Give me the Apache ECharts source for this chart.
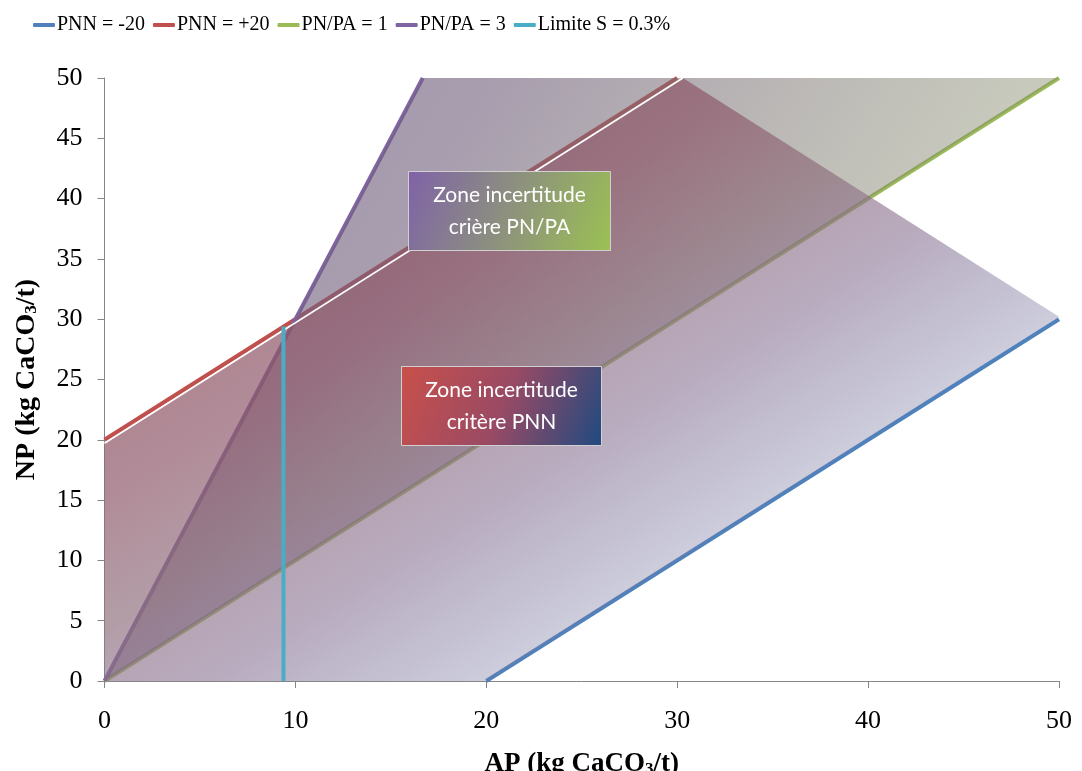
<!DOCTYPE html>
<html>
<head>
<meta charset="utf-8">
<script src="https://cdn.jsdelivr.net/npm/echarts@6/dist/echarts.min.js"></script>
<style>
html,body{margin:0;padding:0;background:#fff;}
#chart{width:1082px;height:771px;}
</style>
</head>
<body>
<div id="chart"></div>
<script>
// ---- data ----
const legendNames = ['PNN = -20', 'PNN = +20', 'PN/PA = 1', 'PN/PA = 3', 'Limite S = 0.3%'];
const pnnMinus20 = [[20, 0], [50, 30]];
const pnnPlus20 = [[0, 20], [30, 50]];
const ratio1 = [[0, 0], [50, 50]];
const ratio3 = [[0, 0], [16.67, 50]];
const limitS = [[9.375, 0], [9.375, 29.4]];
const pnnZone = [[0, 0], [0, 19.7], [30.3, 50], [50, 30.2], [20, 0]];
const ratioZone = [[0, 0], [16.67, 50], [50, 50]];
const zoneLabels = ['Zone incertitude\ncrière PN/PA', 'Zone incertitude\ncritère PNN'];

const colors = ['#4F81BD', '#C0504D', '#9BBB59', '#8064A2', '#4BACC6'];
const serif = 'Liberation Serif';

// gradient stops (style only)
const pnnStops = [
  { offset: 0, color: 'rgba(141,85,102,0.70)' },
  { offset: 0.3, color: 'rgba(141,85,102,0.70)' },
  { offset: 0.35, color: 'rgba(142,88,106,0.69)' },
  { offset: 0.46, color: 'rgba(142,111,125,0.68)' },
  { offset: 0.5, color: 'rgba(140,112,137,0.63)' },
  { offset: 0.56, color: 'rgba(128,104,140,0.55)' },
  { offset: 0.67, color: 'rgba(117,112,155,0.40)' },
  { offset: 0.7, color: 'rgba(120,120,160,0.37)' },
  { offset: 1, color: 'rgba(120,120,160,0.30)' }
];
const ratioStops = [
  { offset: 0, color: 'rgba(108,90,132,0.65)' },
  { offset: 0.3, color: 'rgba(115,98,125,0.62)' },
  { offset: 0.68, color: 'rgba(131,133,107,0.45)' },
  { offset: 1, color: 'rgba(140,165,85,0.38)' }
];

function lineSeries(name, data, color, z) {
  return {
    name, type: 'line', data, symbol: 'none', z,
    lineStyle: { width: 4, color }, itemStyle: { color },
    silent: true, animation: false
  };
}

// gradient across the shape's bounding box, iso-lines parallel to its rising diagonal
function isoGradient(api, pts, stops) {
  const xs = pts.map(p => p[0]), ys = pts.map(p => p[1]);
  const x0 = Math.min(...xs), x1 = Math.max(...xs), y0 = Math.min(...ys), y1 = Math.max(...ys);
  const tl = api.coord([x0, y1]), br = api.coord([x1, y0]);
  const bl = api.coord([x0, y0]), tr = api.coord([x1, y1]);
  const dx = tr[0] - bl[0], dy = tr[1] - bl[1];
  let nx = -dy, ny = dx;
  const len = Math.hypot(nx, ny); nx /= len; ny /= len;
  const proj = (br[0] - tl[0]) * nx + (br[1] - tl[1]) * ny;
  return { type: 'linear', global: true, x: tl[0], y: tl[1], x2: tl[0] + nx * proj, y2: tl[1] + ny * proj, colorStops: stops };
}

function zoneSeries(name, pts, stops, mode, topEdge, z) {
  return {
    name, type: 'custom', coordinateSystem: 'cartesian2d', z, silent: true, animation: false,
    data: pts, encode: { x: 0, y: 1 },
    renderItem(params, api) {
      if (params.dataIndex !== 0) return null;
      const points = pts.map(p => api.coord(p));
      const fill = mode === 'iso' ? isoGradient(api, pts, stops)
        : { type: 'linear', x: 0, y: 0, x2: 1, y2: 1, colorStops: stops };
      const children = [{ type: 'polygon', shape: { points }, style: { fill, stroke: null } }];
      if (topEdge) {
        children.push({ type: 'polyline', shape: { points: [points[1], points[2]] },
          style: { stroke: '#ffffff', lineWidth: 1.5, fill: null } });
      }
      return { type: 'group', children };
    }
  };
}

const chart = echarts.init(document.getElementById('chart'), null, { renderer: 'canvas' });

const option = {
  backgroundColor: '#ffffff',
  animation: false,
  legend: {
    data: legendNames, left: 28, top: 10,
    icon: 'roundRect', itemWidth: 22, itemHeight: 4, itemGap: 8,
    textStyle: { fontFamily: serif, fontSize: 20, color: '#000', padding: [0, 0, 0, -3] }
  },
  grid: { left: 104.5, right: 23, top: 78, bottom: 90, containLabel: false, outerBoundsMode: 'none' },
  xAxis: {
    type: 'value', min: 0, max: 50, interval: 10,
    name: '{b|AP (kg CaCO}{s|3}{b|/t)}', nameLocation: 'middle', nameGap: 70,
    nameTextStyle: {
      rich: {
        b: { fontFamily: serif, fontWeight: 'bold', fontSize: 27, color: '#000' },
        s: { fontFamily: serif, fontWeight: 'bold', fontSize: 17, color: '#000', verticalAlign: 'bottom', padding: [10, 0, 0, 0] }
      }
    },
    axisLine: { lineStyle: { color: '#868686', width: 1 } },
    axisTick: { show: true, length: 7, lineStyle: { color: '#868686' } },
    axisLabel: { fontFamily: serif, fontSize: 26, color: '#000', margin: 27 },
    splitLine: { show: false }
  },
  yAxis: {
    type: 'value', min: 0, max: 50, interval: 5,
    name: '{b|NP (kg CaCO}{s|3}{b|/t)}', nameLocation: 'middle', nameGap: 64, nameRotate: 90,
    nameTextStyle: {
      rich: {
        b: { fontFamily: serif, fontWeight: 'bold', fontSize: 28, color: '#000' },
        s: { fontFamily: serif, fontWeight: 'bold', fontSize: 17, color: '#000', verticalAlign: 'bottom', padding: [10, 0, 0, 0] }
      }
    },
    axisLine: { show: true, lineStyle: { color: '#868686', width: 1 } },
    axisTick: { show: true, length: 7, lineStyle: { color: '#868686' } },
    axisLabel: { fontFamily: serif, fontSize: 26, color: '#000', margin: 22 },
    splitLine: { show: false }
  },
  series: [
    lineSeries(legendNames[0], pnnMinus20, colors[0], 2),
    lineSeries(legendNames[1], pnnPlus20, colors[1], 2),
    lineSeries(legendNames[2], ratio1, colors[2], 2),
    lineSeries(legendNames[3], ratio3, colors[3], 2),
    zoneSeries('zone PN/PA', ratioZone, ratioStops, 'bbox', false, 3),
    zoneSeries('zone PNN', pnnZone, pnnStops, 'iso', true, 4),
    lineSeries(legendNames[4], limitS, colors[4], 5)
  ],
  graphic: [
    {
      type: 'group', left: 408, top: 171, z: 100,
      children: [
        { type: 'rect', z: 100, shape: { x: 0, y: 0, width: 202, height: 79 },
          style: { fill: { type: 'linear', x: 0, y: 0, x2: 1, y2: 1, colorStops: [
            { offset: 0, color: '#7F62A8' }, { offset: 1, color: '#9BC152' } ] },
            stroke: '#d0d0d0', lineWidth: 1 } },
        { type: 'text', z: 101, x: 101, y: 40,
          style: { text: zoneLabels[0], fill: '#fff', font: '21px Lato', align: 'center', verticalAlign: 'middle', lineHeight: 32 } }
      ]
    },
    {
      type: 'group', left: 401, top: 366, z: 100,
      children: [
        { type: 'rect', z: 100, shape: { x: 0, y: 0, width: 200, height: 79 },
          style: { fill: { type: 'linear', x: 0, y: 0, x2: 1, y2: 1, colorStops: [
            { offset: 0, color: '#C9504A' }, { offset: 0.5, color: '#9A4A64' }, { offset: 1, color: '#1F4A80' } ] },
            stroke: '#d0d0d0', lineWidth: 1 } },
        { type: 'text', z: 101, x: 100, y: 40,
          style: { text: zoneLabels[1], fill: '#fff', font: '21px Lato', align: 'center', verticalAlign: 'middle', lineHeight: 32 } }
      ]
    }
  ]
};
chart.setOption(option);
</script>
</body>
</html>
